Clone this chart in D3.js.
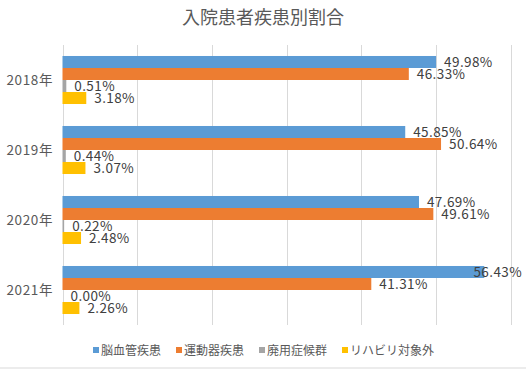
<!DOCTYPE html>
<html lang="ja">
<head>
<meta charset="utf-8">
<title>入院患者疾患別割合</title>
<script src="https://cdn.jsdelivr.net/npm/d3@7"></script>
<style>
  body { margin: 0; background: #fff; }
  text { font-family: "Noto Sans CJK JP", "Noto Sans", sans-serif; }
</style>
</head>
<body>
<script>
// data
var years = ["2018年", "2019年", "2020年", "2021年"];
var seriesNames = ["脳血管疾患", "運動器疾患", "廃用症候群", "リハビリ対象外"];
var cerebro   = [49.98, 45.85, 47.69, 56.43];
var locomotor = [46.33, 50.64, 49.61, 41.31];
var disuse    = [0.51, 0.44, 0.22, 0.00];
var nonRehab  = [3.18, 3.07, 2.48, 2.26];
var colors = ["#5B9BD5", "#ED7D31", "#A5A5A5", "#FFC000"];
var xTicks = [0, 10, 20, 30, 40, 50, 60];

var width = 526, height = 369;
var plotLeft = 62.5, plotRight = 511, plotTop = 45, plotBottom = 325;

var allSeries = [cerebro, locomotor, disuse, nonRehab];

var svg = d3.select("body").append("svg")
  .attr("width", width)
  .attr("height", height);

// bottom edge of chart area
svg.append("line")
  .attr("x1", 0).attr("x2", width)
  .attr("y1", 368).attr("y2", 368)
  .attr("stroke", "#d9d9d9");

var xScale = d3.scaleLinear().domain([0, 60]).range([plotLeft, plotRight]);
var yScale = d3.scaleBand().domain(years).range([plotTop, plotBottom]).paddingInner(0.314).paddingOuter(0.157);
var inner = d3.scaleBand().domain(d3.range(4)).range([0, yScale.bandwidth()]);

// title
svg.append("text")
  .attr("x", 263).attr("y", 24)
  .attr("text-anchor", "middle")
  .attr("font-size", 18)
  .attr("fill", "#595959")
  .text("入院患者疾患別割合");

// gridlines
svg.append("g").selectAll("line").data(xTicks).enter()
  .append("line")
  .attr("x1", function(d){ return Math.round(xScale(d)) + 0.5; })
  .attr("x2", function(d){ return Math.round(xScale(d)) + 0.5; })
  .attr("y1", plotTop).attr("y2", plotBottom)
  .attr("stroke", "#d9d9d9");

// category labels
svg.append("g").selectAll("text").data(years).enter()
  .append("text")
  .attr("x", 53)
  .attr("y", function(d){ return yScale(d) + yScale.bandwidth() / 2 + 5; })
  .attr("text-anchor", "end")
  .attr("font-size", 13.5)
  .attr("letter-spacing", 0.6)
  .attr("fill", "#595959")
  .text(function(d){ return d; });

// bars and labels
allSeries.forEach(function(vals, s) {
  var g = svg.append("g");
  g.selectAll("rect").data(vals).enter()
    .append("rect")
    .attr("x", xScale(0))
    .attr("y", function(d, i){ return yScale(years[i]) + inner(s); })
    .attr("width", function(d){ return xScale(d) - xScale(0); })
    .attr("height", inner.bandwidth())
    .attr("fill", colors[s]);

  g.selectAll("text").data(vals).enter()
    .append("text")
    .attr("y", function(d, i){ return yScale(years[i]) + inner(s) + inner.bandwidth() / 2 + 5; })
    .attr("font-size", 13.5)
    .attr("letter-spacing", 0.4)
    .attr("fill", "#404040")
    .text(function(d){ return d.toFixed(2) + "%"; })
    .attr("x", function(d){
      var w = this.getComputedTextLength();
      return Math.min(xScale(d) + 8, 522 - w);
    });
});

// legend
var legendX = [93, 176, 259, 342];
var legend = svg.append("g").selectAll("g").data(seriesNames).enter()
  .append("g")
  .attr("transform", function(d, i){ return "translate(" + legendX[i] + ",350)"; });
legend.append("rect")
  .attr("x", 0).attr("y", -3)
  .attr("width", 6).attr("height", 6)
  .attr("fill", function(d, i){ return colors[i]; });
legend.append("text")
  .attr("x", 8).attr("y", 4.5)
  .attr("font-size", 12)
  .attr("fill", "#595959")
  .text(function(d){ return d; });
</script>
</body>
</html>
